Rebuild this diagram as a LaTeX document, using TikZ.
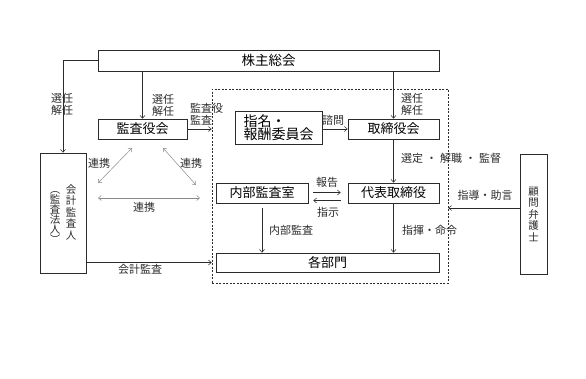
\documentclass[tikz,border=0pt]{standalone}
\usepackage{fontspec}
\setmainfont{Noto Sans CJK JP}
\usetikzlibrary{arrows.meta,positioning}
\definecolor{ink}{HTML}{2B2B2B}
\definecolor{linkgray}{HTML}{8A8A8A}

\begin{document}
\begin{tikzpicture}[
    x=1pt, y=-1pt,
    font=\fontsize{11}{12}\selectfont,
    box/.style={
        draw=ink,
        line width=0.6pt,
        inner sep=0pt,
        align=center,
        font=\fontsize{13}{14}\selectfont
    },
    area/.style={
        draw=ink,
        line width=0.5pt,
        dash pattern=on 2pt off 1.5pt,
        inner sep=0pt
    },
    arr/.style={
        -{Straight Barb[length=3pt,width=5pt]},
        draw=ink,
        line width=0.5pt
    },
    link/.style={
        {Straight Barb[length=3pt,width=5pt]}-{Straight Barb[length=3pt,width=5pt]},
        draw=linkgray,
        line width=0.5pt
    },
    lbl/.style={
        inner sep=0pt,
        align=left,
        text=ink
    },
    vtext/.style={
        inner sep=0pt,
        align=center,
        text=ink,
        font=\fontsize{10.5}{11.5}\selectfont
    }
]

\useasboundingbox (0,0) rectangle (586,378);

% boxes
\node[area, minimum width=236pt, minimum height=194pt] (area) at (330,186) {};

\node[box, minimum width=341pt, minimum height=21pt,
    font=\fontsize{13.5}{14}\selectfont] (soukai) at (268.5,60.5)
{株主総会};

\node[box, minimum width=89pt, minimum height=20pt] (kansayaku) at (142.5,129)
{監査役会};

\node[box, minimum width=87pt, minimum height=33pt, align=left,
    font=\fontsize{14}{13.5}\selectfont] (shimei) at (278.5,127.5)
{指名・\\報酬委員会};

\node[box, minimum width=91pt, minimum height=20pt] (torishimari) at (393.5,129)
{取締役会};

\node[box, minimum width=92pt, minimum height=20pt] (naibu) at (262,193)
{内部監査室};

\node[box, minimum width=91pt, minimum height=20pt] (daihyo) at (393.5,193)
{代表取締役};

\node[box, minimum width=223pt, minimum height=19pt] (bumon) at (327.5,262.5)
{各部門};

\node[box, minimum width=46pt, minimum height=120pt] (kaikei) at (63,213) {};
\node[vtext] (kaikeiR) at (71,212) {会\\計\\監\\査\\人};
\node[vtext, font=\fontsize{10.5}{10}\selectfont] (kaikeiL) at (55,218)
{︵\\監\\査\\法\\人\\︶};

\node[box, minimum width=27pt, minimum height=120pt] (komon) at (533.5,214) {};
\node[vtext] (komonT) at (533.5,214) {顧\\問\\弁\\護\\士};

% labels
\node[lbl, align=center] (senninA) at (62,104) {選任\\解任};
\node[lbl, anchor=west] (senninB) at (152,105) {選任\\解任};
\node[lbl, anchor=west] (kansa) at (190,114) {監査役\\監査};
\node[lbl] (shimon) at (333,120) {諮問};
\node[lbl, anchor=west] (senninC) at (401,104) {選任\\解任};
\node[lbl, anchor=west] (sentei) at (401,158)
{選定\hspace{3pt}・\hspace{3pt}解職\hspace{3pt}・\hspace{3pt}監督};
\node[lbl] (houkoku) at (327,182) {報告};
\node[lbl] (shiji) at (328,212) {指示};
\node[lbl] (naibukansa) at (291,230) {内部監査};
\node[lbl, anchor=west] (shiki) at (402,230) {指揮・命令};
\node[lbl] (shidou) at (485,195) {指導・助言};
\node[lbl] (kaikeikansa) at (140,269) {会計監査};
\node[lbl] (renkeiA) at (99,163) {連携};
\node[lbl] (renkeiB) at (191,163) {連携};
\node[lbl] (renkeiC) at (144,207) {連携};

% connectors
\draw[arr] (soukai.west) -| (kaikei.north);
\draw[arr] (kansayaku.north |- soukai.south) -- (kansayaku.north);
\draw[arr] (torishimari.north |- soukai.south) -- (torishimari.north);
\draw[arr] (kansayaku.east) -- (kansayaku.east -| area.west);
\draw[arr] (shimei.east |- torishimari.west) -- (torishimari.west);
\draw[arr] (torishimari) -- (daihyo);

\draw[arr, shorten <=5pt, shorten >=7pt]
    ([yshift=0.5pt]naibu.east) -- ([yshift=0.5pt]daihyo.west);
\draw[arr, shorten <=7pt, shorten >=5pt]
    ([yshift=-7.5pt]daihyo.west) -- ([yshift=-7.5pt]naibu.east);

\draw[arr, shorten <=5pt] (naibu.south) -- (naibu.south |- bumon.north);
\draw[arr] (daihyo.south) -- (daihyo.south |- bumon.north);
\draw[arr] (bumon -| kaikei.east) -- (bumon -| area.west);
\draw[arr] ([yshift=6pt]komon.west) -- ([yshift=6pt]komon.west -| area.east);

% renkei
\coordinate (linkA1) at (98,183);
\coordinate (linkA2) at (132,148);
\coordinate (linkB1) at (163,148);
\coordinate (linkB2) at (196,185);
\coordinate (linkC1) at (98,198);
\coordinate (linkC2) at (200,198);
\draw[link] (linkA1) -- (linkA2);
\draw[link] (linkB1) -- (linkB2);
\draw[link] (linkC1) -- (linkC2);

\end{tikzpicture}
\end{document}
